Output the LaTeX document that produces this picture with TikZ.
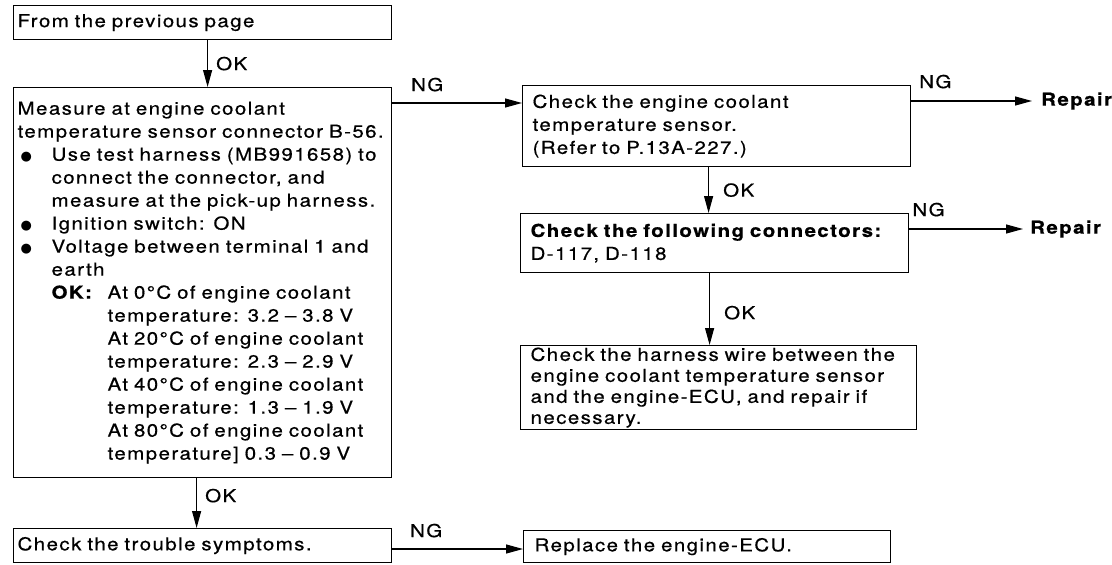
\documentclass[tikz,border=0pt]{standalone}
\usepackage{fontspec}
\setmainfont{TeX Gyre Heros}[FakeStretch=1.15,LetterSpace=8,FakeBold=0.6]
\newfontfamily\symfont{DejaVu Sans}
\usetikzlibrary{arrows.meta}
\newcommand{\wide}{\spaceskip=10.5pt\xspaceskip=10.5pt\relax}
\tikzset{
	box/.style={draw,line width=1.2pt,anchor=north west,align=left,inner ysep=0pt,font=\fontsize{17.8}{23}\selectfont\wide},
	link/.style={line width=1.2pt,-{Triangle[length=17pt,width=9pt]}},
	tag/.style={font=\fontsize{17.8}{19}\selectfont,inner sep=2pt}
}
\newcommand{\blt}{\makebox[34pt][l]{\hspace{3pt}{\symfont\fontsize{13}{13}\selectfont ●}}}
\newcommand{\hang}{\hspace*{34pt}}
\newcommand{\hangok}{\hspace*{90pt}}
\begin{document}
\begin{tikzpicture}[x=1pt,y=-1pt]
	\useasboundingbox (0,0) rectangle (1112,565);
	\node[box,inner xsep=4pt,text width=370pt,minimum height=34pt] (prev) at (13,5) {From the previous page};
	\node[box,inner xsep=4pt,text width=370pt,minimum height=390pt] (meas) at (13,87) {Measure at engine coolant\\
		temperature sensor connector B-56.\\
		\blt Use test harness (MB991658) to\\
		\hang connect the connector, and\\
		\hang measure at the pick-up harness.\\
		\blt Ignition switch: ON\\
		\blt Voltage between terminal 1 and\\
		\hang earth\\
		\hang\makebox[56pt][l]{\textbf{OK:}}At 0°C of engine coolant\\
		\hangok temperature: 3.2 – 3.8 V\\
		\hangok At 20°C of engine coolant\\
		\hangok temperature: 2.3 – 2.9 V\\
		\hangok At 40°C of engine coolant\\
		\hangok temperature: 1.3 – 1.9 V\\
		\hangok At 80°C of engine coolant\\
		\hangok temperature] 0.3 – 0.9 V};
	\node[box,inner xsep=10pt,text width=368pt,minimum height=81pt] (sens) at (522,85) {Check the engine coolant\\temperature sensor.\\(Refer to P.13A-227.)};
	\node[box,inner xsep=10pt,text width=368pt,minimum height=59pt] (conn) at (520,213) {\textbf{Check the following connectors:}\\D-117, D-118};
	\node[box,inner xsep=10pt,text width=376pt,minimum height=84pt,font=\fontsize{17.8}{21}\selectfont\wide] (harn) at (520,345) {Check the harness wire between the\\engine coolant temperature sensor\\and the engine-ECU, and repair if\\necessary.};
	\node[box,inner xsep=4pt,text width=370pt,minimum height=34pt] (trbl) at (13,528) {Check the trouble symptoms.};
	\node[box,inner xsep=11pt,text width=345pt,minimum height=32pt] (ecu) at (523,530) {Replace the engine-ECU.};
	\node[tag,anchor=west,inner xsep=9pt] (rep1) at (1032,101) {\textbf{Repair}};
	\node[tag,anchor=west,inner xsep=7pt] (rep2) at (1023,229) {\textbf{Repair}};

	\draw[link] ([xshift=5pt]prev.south) -- node[tag,right=6pt] (ok1) {OK} ([xshift=5pt]meas.north);
	\draw[link] ([yshift=-16pt]meas.north east) -- node[tag,pos=0.27,above=9pt] (ng1) {NG} ([yshift=-18pt]sens.north west);
	\draw[link] ([yshift=-16pt]sens.north east) -- node[tag,pos=0.2,above=10pt] (ng2) {NG} (rep1.west);
	\draw[link] ([xshift=-8pt]sens.south) coordinate (s1) -- node[tag,right=12pt] (ok2) {OK} (s1 |- conn.north);
	\draw[link] ([yshift=-16pt]conn.north east) -- node[tag,pos=0.17,above=10pt] (ng3) {NG} (rep2.west);
	\draw[link] ([xshift=-5pt]conn.south) coordinate (s2) -- node[tag,pos=0.55,right=12pt] (ok3) {OK} (s2 |- harn.north);
	\draw[link] ([xshift=-6pt]meas.south) -- node[tag,pos=0.35,right=6pt] (ok4) {OK} ([xshift=-6pt]trbl.north);
	\draw[link] ([yshift=-21pt]trbl.north east) -- node[tag,pos=0.26,above=9pt] (ng4) {NG} ([yshift=-19pt]ecu.north west);
\end{tikzpicture}
\end{document}
